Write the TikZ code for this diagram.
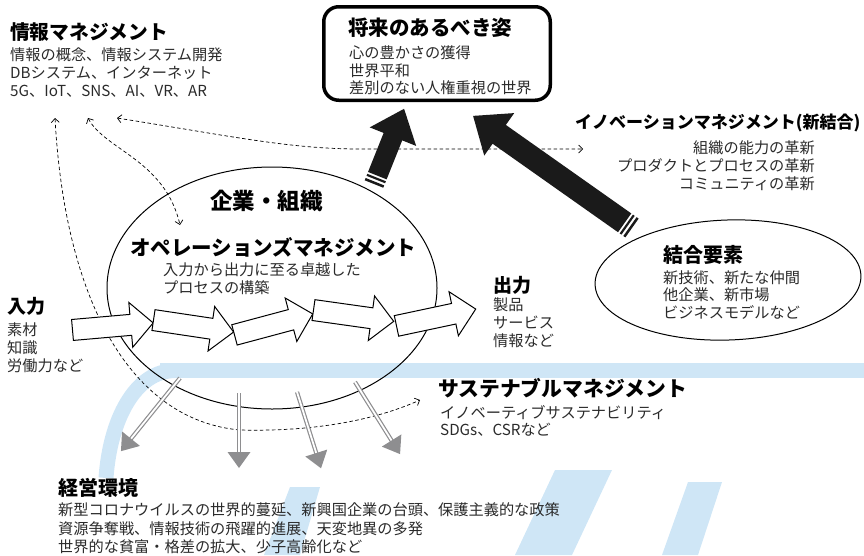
\documentclass[tikz,border=0pt]{standalone}
\usepackage{fontspec}
\setmainfont{Noto Sans CJK JP}
\usetikzlibrary{arrows.meta,shapes.arrows,shapes.geometric}
\definecolor{wm}{HTML}{CFE6F6}
\definecolor{grayarr}{HTML}{8E8E90}
\definecolor{bodytxt}{HTML}{2A2A2A}
\definecolor{bigblack}{HTML}{1A1A1A}
\tikzset{
  hd/.style={font=\fontsize{#1}{#1}\selectfont\bfseries, inner sep=0pt, anchor=west},
  bd/.style={font=\fontsize{15.2}{17.8}\selectfont, text=bodytxt, inner sep=0pt, anchor=west, align=left},
  dsh/.style={line width=0.7pt, dash pattern=on 3.5pt off 2.5pt, {Straight Barb[length=4pt,width=8pt]}-{Straight Barb[length=4pt,width=8pt]}},
  parrow/.style={single arrow, draw, fill=white, line width=1pt, minimum height=81pt, inner xsep=0pt, inner ysep=10pt, single arrow head extend=12pt, anchor=tail},
  grayshaft/.style={draw=grayarr, line width=1.2pt, double=white, double distance=1.8pt},
  bandstyle/.style={fill=wm, draw=none},
}
\begin{document}
\begin{tikzpicture}[x=1pt,y=-1pt]
\useasboundingbox (0,0) rectangle (864,555);
% watermark
\fill[bandstyle] (160,363) rectangle (864,378);
\draw[wm, line width=15pt] (175,370.5) .. controls (135,371) and (110,420) .. (106,478);
\fill[bandstyle] (290,487) -- (320,487) -- (300,555) -- (264,555) -- cycle;
\fill[bandstyle] (555,470) -- (612,470) -- (572,555) -- (515,555) -- cycle;
\fill[bandstyle] (688,482) -- (722,482) -- (698,555) -- (662,555) -- cycle;

% info management
\node[hd=19.7] (infoH) at (10,32) {情報マネジメント};
\node[bd] (infoB) at (10,72.5) {情報の概念、情報システム開発\\DBシステム、インターネット\\5G、IoT、SNS、AI、VR、AR};

% future box
\node[draw, line width=3.5pt, rounded corners=15pt, minimum width=226.5pt, minimum height=93.5pt, inner sep=0pt] (futB) at (437,53.5) {};
\node[hd=20.5] (futH) at (348,28) {将来のあるべき姿};
\node[bd] (futT) at (349,70.3) {心の豊かさの獲得\\世界平和\\差別のない人権重視の世界};

% innovation
\node[hd=17] (innoH) at (575,122.5) {イノベーションマネジメント(新結合)};
\node[bd, anchor=east, align=right] (innoT) at (815,166) {組織の能力の革新\\プロダクトとプロセスの革新\\コミュニティの革新};

% organisation ellipse
\node[ellipse, draw, line width=1pt, minimum width=330pt, minimum height=242pt, inner sep=0pt] (org) at (272,288) {};
\node[hd=22.5] (orgH) at (210,201) {企業・組織};
\node[hd=20.5] (opH) at (130,247) {オペレーションズマネジメント};
\node[bd] (opT) at (163,279) {入力から出力に至る卓越した\\プロセスの構築};

% combination ellipse
\node[ellipse, draw, line width=1pt, minimum width=266pt, minimum height=120pt, inner sep=0pt, rotate=2] (ket) at (728,280) {};
\node[hd=20] (ketH) at (663,255) {結合要素};
\node[bd] (ketT) at (663,295) {新技術、新たな仲間\\他企業、新市場\\ビジネスモデルなど};

% input / output
\node[hd=19] (inH) at (7,306) {入力};
\node[bd] (inT) at (7,347.5) {素材\\知識\\労働力など};
\node[hd=19] (outH) at (493,285) {出力};
\node[bd] (outT) at (493,323) {製品\\サービス\\情報など};

% sustainable
\node[hd=20.8] (susH) at (438,388) {サステナブルマネジメント};
\node[bd] (susT) at (440,421) {イノベーティブサステナビリティ\\SDGs、CSRなど};

% environment
\node[hd=20] (envH) at (58,488) {経営環境};
\node[bd, font=\fontsize{15.2}{18.5}\selectfont] (envT) at (58,528.5) {新型コロナウイルスの世界的蔓延、新興国企業の台頭、保護主義的な政策\\資源争奪戦、情報技術の飛躍的進展、天変地異の多発\\世界的な貧富・格差の拡大、少子高齢化など};

% dashed connectors
\coordinate (d1a) at (117,118);
\coordinate (d1b) at (583,149);
\draw[dsh] (d1a) .. controls (230,136) and (290,149) .. (360,149) -- (d1b);
\coordinate (d2a) at (88,118);
\coordinate (d2b) at (180,225);
\draw[dsh] (d2a) .. controls (105,150) and (165,160) .. (d2b);
\coordinate (d3a) at (55,118);
\coordinate (d3b) at (420,400);
\draw[dsh] (d3a) .. controls (65,300) and (130,420) .. (240,430) .. controls (320,432) and (380,418) .. (d3b);

% process arrows
\node[parrow, rotate=5] (p1) at (72,330) {};
\node[parrow, rotate=-8.5] (p2) at (153,320) {};
\node[parrow, rotate=15] (p3) at (234,335) {};
\node[parrow, rotate=-8] (p4) at (313,310) {};
\node[parrow, rotate=12] (p5) at (396,326) {};

% big black arrows
\coordinate (bigLtail) at (374,184);
\begin{scope}[shift={(bigLtail)}, rotate=68.2]
  \fill[bigblack] (9,-10) -- (51,-10) -- (51,-25) -- (81,0) -- (51,25) -- (51,10) -- (9,10) -- cycle;
  \fill[bigblack] (0,-10) rectangle (2.5,10) (4.8,-10) rectangle (7,10);
\end{scope}
\coordinate (bigRtail) at (632,228);
\begin{scope}[shift={(bigRtail)}, rotate=144.8]
  \fill[bigblack] (9,-11.5) -- (162.5,-11.5) -- (162.5,-26) -- (194.5,0) -- (162.5,26) -- (162.5,11.5) -- (9,11.5) -- cycle;
  \fill[bigblack] (0,-11.5) rectangle (2.5,11.5) (4.8,-11.5) rectangle (7,11.5);
\end{scope}

% gray arrows
\coordinate (g1) at (180,378);
\begin{scope}[shift={(g1)}, rotate=-128.9]
  \draw[grayshaft] (0,0) -- (79,0);
  \fill[grayarr] (78,-11.5) -- (94,0) -- (78,11.5) -- cycle;
\end{scope}
\coordinate (g2) at (239,393);
\begin{scope}[shift={(g2)}, rotate=-90]
  \draw[grayshaft] (0,0) -- (60,0);
  \fill[grayarr] (59,-11.5) -- (75,0) -- (59,11.5) -- cycle;
\end{scope}
\coordinate (g3) at (297,392);
\begin{scope}[shift={(g3)}, rotate=-72.5]
  \draw[grayshaft] (0,0) -- (65,0);
  \fill[grayarr] (64,-11.5) -- (80,0) -- (64,11.5) -- cycle;
\end{scope}
\coordinate (g4) at (355,382);
\begin{scope}[shift={(g4)}, rotate=-58]
  \draw[grayshaft] (0,0) -- (70,0);
  \fill[grayarr] (69,-11.5) -- (85,0) -- (69,11.5) -- cycle;
\end{scope}
\end{tikzpicture}
\end{document}
